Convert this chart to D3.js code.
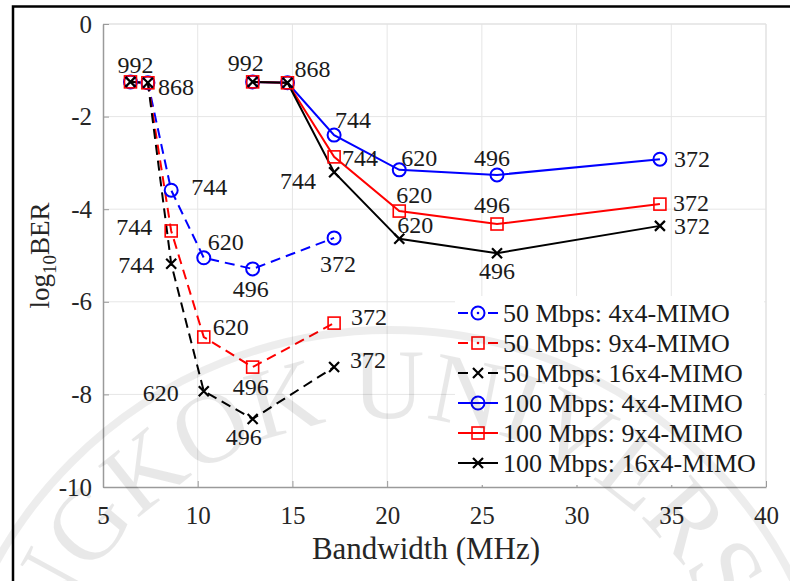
<!DOCTYPE html>
<html><head><meta charset="utf-8">
<script src="https://cdn.jsdelivr.net/npm/d3@7"></script>
<style>html,body{margin:0;padding:0;background:#fff;}svg{display:block;}</style>
</head><body>
<svg id="chart" width="790" height="581"></svg>
<script>
// ---- data ----
const subcarriers = ["992", "868", "744", "620", "496", "372"];
const bandwidth50 = [6.45, 7.37, 8.6, 10.32, 12.9, 17.2];
const bandwidth100 = [12.9, 14.74, 17.2, 20.64, 25.8, 34.4];
const ber50_4x4 = [-1.25, -1.27, -3.59, -5.05, -5.29, -4.62];
const ber50_9x4 = [-1.25, -1.27, -4.47, -6.76, -7.41, -6.46];
const ber50_16x4 = [-1.25, -1.27, -5.18, -7.93, -8.53, -7.41];
const ber100_4x4 = [-1.25, -1.27, -2.40, -3.15, -3.26, -2.92];
const ber100_9x4 = [-1.25, -1.27, -2.87, -4.04, -4.32, -3.89];
const ber100_16x4 = [-1.25, -1.27, -3.20, -4.64, -4.95, -4.36];
const seriesNames = ["50 Mbps: 4x4-MIMO", "50 Mbps: 9x4-MIMO", "50 Mbps: 16x4-MIMO",
                     "100 Mbps: 4x4-MIMO", "100 Mbps: 9x4-MIMO", "100 Mbps: 16x4-MIMO"];
const xTicks = [5, 10, 15, 20, 25, 30, 35, 40];
const yTicks = [0, -2, -4, -6, -8, -10];
const xTitle = "Bandwidth (MHz)";
const watermarkText = "BANGKOK UNIVERSITY";

// ---- styling (not data) ----
const styles = [
  {color: "#0000ff", marker: "circle", dashed: true},
  {color: "#ff0000", marker: "square", dashed: true},
  {color: "#000000", marker: "x", dashed: true},
  {color: "#0000ff", marker: "circle", dashed: false},
  {color: "#ff0000", marker: "square", dashed: false},
  {color: "#000000", marker: "x", dashed: false}
];
// label placement per series per point: [anchor, dx, dy] or null
const labelPlacement = [
  [null, null, ["start", 20, -4], ["start", 4, -16], ["middle", -2, 20], ["middle", 4, 26]],
  [null, null, ["end", -19, -4], ["start", 9, -10], ["middle", -2, 20], ["start", 17, -6]],
  [["middle", 5, -17], ["start", 10, 4], ["end", -17, 1], ["end", -25, 1], ["middle", -9, 18], ["start", 16, -7]],
  [null, null, ["start", 1, -16], ["start", 2, -12], ["middle", -5, -17], ["start", 14, -1]],
  [null, null, ["start", 8, 1], ["start", -3, -16], ["middle", -5, -19], ["start", 13, -2]],
  [["middle", -7, -19], ["start", 7, -14], ["end", -18, 8], ["start", -2, -14], ["middle", 0, 17], ["start", 14, 0]]
];

const serif = "Liberation Serif, Times New Roman, serif";
const svg = d3.select("#chart");
const W = 790, H = 581;
const plot = {left: 103, right: 766, top: 24, bottom: 487};

const x = d3.scaleLinear().domain([5, 40]).range([plot.left, plot.right]);
const y = d3.scaleLinear().domain([-10, 0]).range([plot.bottom, plot.top]);

svg.append("rect").attr("width", W).attr("height", H).attr("fill", "#fff");

// grid
const grid = svg.append("g");
grid.selectAll(".gx").data(xTicks.slice(1, -1)).join("line")
  .attr("x1", d => x(d)).attr("x2", d => x(d)).attr("y1", plot.top).attr("y2", plot.bottom)
  .attr("stroke", "#e6e6e6").attr("stroke-width", 1);
grid.selectAll(".gy").data(yTicks.slice(1, -1)).join("line")
  .attr("y1", d => y(d)).attr("y2", d => y(d)).attr("x1", plot.left).attr("x2", plot.right)
  .attr("stroke", "#e6e6e6").attr("stroke-width", 1);

// box top/right
svg.append("line").attr("x1", plot.left).attr("x2", plot.right).attr("y1", plot.top).attr("y2", plot.top)
  .attr("stroke", "#e2e2e2").attr("stroke-width", 1.5);
svg.append("line").attr("x1", plot.right).attr("x2", plot.right).attr("y1", plot.top).attr("y2", plot.bottom)
  .attr("stroke", "#e2e2e2").attr("stroke-width", 1.5);

// axes
const xAxis = d3.axisBottom(x).tickValues(xTicks).tickFormat(d3.format("d"))
  .tickSizeInner(-6).tickSizeOuter(0).tickPadding(19);
const gx = svg.append("g").attr("transform", `translate(0,${plot.bottom})`).call(xAxis);
const yAxis = d3.axisLeft(y).tickValues(yTicks).tickFormat(d3.format("d"))
  .tickSizeInner(-6).tickSizeOuter(0).tickPadding(11);
const gy = svg.append("g").attr("transform", `translate(${plot.left},0)`).call(yAxis);
[gx, gy].forEach(g => {
  g.attr("font-family", null);
  g.select(".domain").attr("stroke", "#9a9a9a").attr("stroke-width", 1.5);
  g.selectAll(".tick line").attr("stroke", "#9a9a9a").attr("stroke-width", 1);
  g.selectAll(".tick text").style("font-family", serif).style("font-size", "25px").attr("fill", "#262626");
});
gy.selectAll(".tick text").text(d => d === 0 ? "0" : "-" + Math.abs(d));

// axis titles
svg.append("text").attr("x", 426).attr("y", 559)
  .attr("text-anchor", "middle").style("font-family", serif).style("font-size", "31px").attr("fill", "#262626")
  .text(xTitle);
const yl = svg.append("text").attr("transform", `translate(49,${(plot.top + plot.bottom) / 2}) rotate(-90)`)
  .attr("text-anchor", "middle").style("font-family", serif).style("font-size", "27px").attr("fill", "#262626");
yl.append("tspan").text("log");
yl.append("tspan").style("font-size", "19px").attr("dy", 7).text("10");
yl.append("tspan").attr("dy", -7).text("BER");

// series
const allBer = [ber50_4x4, ber50_9x4, ber50_16x4, ber100_4x4, ber100_9x4, ber100_16x4];
const allBw = [bandwidth50, bandwidth50, bandwidth50, bandwidth100, bandwidth100, bandwidth100];
const series = allBer.map((vals, i) => ({
  name: seriesNames[i], style: styles[i],
  points: vals.map((v, j) => ({x: allBw[i][j], y: v, label: subcarriers[j], place: labelPlacement[i][j]}))
}));

function drawMarker(g, type, color, cx, cy, dot) {
  if (type === "circle") {
    g.append("circle").attr("cx", cx).attr("cy", cy).attr("r", 6.5)
      .attr("fill", "none").attr("stroke", color).attr("stroke-width", 2);
  } else if (type === "square") {
    g.append("rect").attr("x", cx - 6).attr("y", cy - 6).attr("width", 12).attr("height", 12)
      .attr("fill", "none").attr("stroke", color).attr("stroke-width", 1.6);
  } else {
    const s = 5;
    g.append("path").attr("d", `M${cx - s},${cy - s}L${cx + s},${cy + s}M${cx - s},${cy + s}L${cx + s},${cy - s}`)
      .attr("stroke", color).attr("stroke-width", 2.2).attr("fill", "none");
  }
  if (dot) g.append("circle").attr("cx", cx).attr("cy", cy).attr("r", 1.3).attr("fill", color);
}

const line = d3.line().x(d => x(d.x)).y(d => y(d.y));
const gS = svg.append("g");
series.forEach(s => {
  gS.append("path").datum(s.points).attr("d", line).attr("fill", "none")
    .attr("stroke", s.style.color).attr("stroke-width", 2)
    .attr("stroke-dasharray", s.style.dashed ? "10,6" : null);
});
series.forEach(s => {
  const g = gS.append("g");
  s.points.forEach(p => drawMarker(g, s.style.marker, s.style.color, x(p.x), y(p.y), false));
});

// point labels
const gL = svg.append("g");
series.forEach(s => {
  s.points.forEach(p => {
    if (!p.place) return;
    gL.append("text").attr("x", x(p.x) + p.place[1]).attr("y", y(p.y) + p.place[2])
      .attr("dy", "0.35em").attr("text-anchor", p.place[0])
      .style("font-family", serif).style("font-size", "24px").attr("fill", "#1a1a1a").text(p.label);
  });
});

// legend
const lg = svg.append("g");
lg.append("rect").attr("x", 455).attr("y", 296).attr("width", 309).attr("height", 189).attr("fill", "#fff");
series.forEach((s, i) => {
  const cy = 313 + i * 30;
  const c = s.style.color;
  if (s.style.dashed) {
    lg.append("line").attr("x1", 458).attr("x2", 468).attr("y1", cy).attr("y2", cy).attr("stroke", c).attr("stroke-width", 2);
    lg.append("line").attr("x1", 488).attr("x2", 498).attr("y1", cy).attr("y2", cy).attr("stroke", c).attr("stroke-width", 2);
  } else {
    lg.append("line").attr("x1", 458).attr("x2", 498).attr("y1", cy).attr("y2", cy).attr("stroke", c).attr("stroke-width", 2);
  }
  drawMarker(lg, s.style.marker, c, 478, cy, s.style.dashed && s.style.marker !== "x");
  lg.append("text").attr("x", 503).attr("y", cy).attr("dy", "0.35em")
    .style("font-family", serif).style("font-size", "26px").attr("fill", "#1a1a1a").text(s.name);
});

// watermark
const wm = svg.append("g").attr("pointer-events", "none");
const cxw = 390, cyw = 780, rT = 362;
wm.append("path").attr("id", "wmPath")
  .attr("d", `M${cxw - rT},${cyw} A${rT},${rT} 0 0 1 ${cxw + rT},${cyw}`).attr("fill", "none");
wm.append("text").style("font-family", serif).style("font-size", "100px")
  .attr("fill", "rgba(0,0,0,0.09)")
  .append("textPath").attr("href", "#wmPath").attr("startOffset", "50%").attr("text-anchor", "middle")
  .text(watermarkText);
wm.append("circle").attr("cx", cxw).attr("cy", cyw).attr("r", 450)
  .attr("fill", "none").attr("stroke", "rgba(0,0,0,0.07)").attr("stroke-width", 8);

// outer frame
svg.append("path").attr("d", `M13,${H}L13,6.5L${W},6.5`).attr("fill", "none")
  .attr("stroke", "#000").attr("stroke-width", 2.5);
</script>
</body></html>
